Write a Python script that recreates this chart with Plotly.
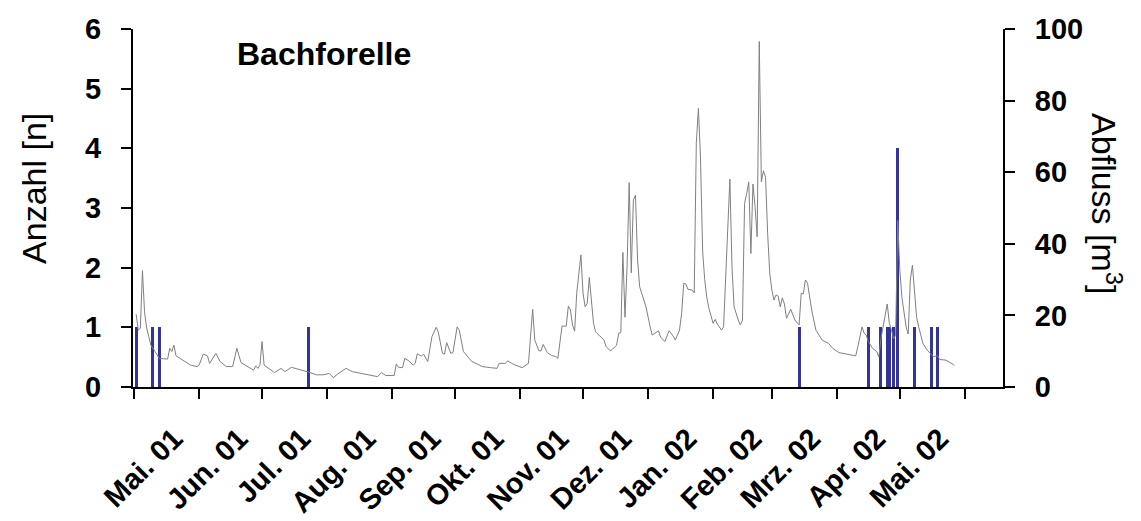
import pandas as pd
import plotly.graph_objects as go

# Messbeginn: Tag 0 der Abflussreihe
START = pd.Timestamp("2001-05-01")

# Tagesabfluss [m3] – Tag seit Messbeginn und Wert
abfluss_tag = [
    1, 2, 3, 4, 5, 6, 7, 8, 10, 12, 16, 17, 18, 19, 20, 23, 27, 30, 31, 33,
    35, 36, 39, 41, 44, 47, 49, 51, 54, 57, 58, 59, 60, 61, 62, 65, 67, 70, 72, 75,
    77, 80, 83, 87, 90, 93, 95, 97, 101, 104, 108, 111, 116, 118, 120, 124, 125, 126, 128, 129,
    131, 133, 134, 135, 137, 138, 140, 142, 144, 145, 147, 148, 149, 151, 152, 154, 155, 157, 159, 161,
    163, 166, 170, 173, 174, 177, 178, 181, 185, 188, 190, 191, 193, 194, 195, 197, 199, 201, 202, 204,
    206, 207, 208, 209, 210, 211, 213, 214, 215, 216, 217, 218, 219, 220, 222, 224, 225, 227, 228, 230,
    231, 232, 233, 234, 235, 236, 237, 238, 239, 240, 241, 243, 244, 246, 247, 250, 251, 253, 255, 257,
    258, 260, 261, 262, 263, 264, 266, 267, 268, 269, 270, 271, 272, 273, 274, 276, 277, 278, 280, 281,
    282, 283, 284, 285, 286, 288, 289, 290, 291, 292, 293, 294, 295, 296, 297, 298, 299, 300, 301, 302,
    303, 304, 305, 306, 307, 308, 309, 310, 311, 313, 315, 317, 318, 319, 320, 321, 323, 325, 328, 331,
    333, 336, 340, 344, 345, 347, 348, 349, 350, 352, 354, 355, 356, 357, 359, 360, 361, 362, 363, 364,
    365, 366, 367, 368, 369, 370, 371, 372, 373, 374, 376, 378, 381, 383, 384, 387, 389, 391,
]
abfluss = [
    20.3, 15.9, 16.4, 32.5, 21.0, 16.5, 14.1, 11.7, 9.9, 8.0, 7.8, 10.8, 9.9, 11.7, 8.7, 7.5, 6.1, 5.7, 6.1, 9.2,
    8.7, 6.6, 9.4, 7.1, 5.7, 5.7, 10.8, 6.8, 5.7, 4.7, 5.9, 5.2, 6.1, 12.7, 6.1, 4.7, 4.0, 5.2, 4.3, 5.5,
    5.2, 4.7, 4.2, 3.4, 3.4, 3.8, 2.6, 3.6, 5.2, 4.3, 3.8, 3.4, 2.9, 4.0, 3.2, 3.2, 6.4, 5.5, 5.4, 8.0,
    7.3, 6.1, 6.6, 9.3, 8.6, 9.2, 7.1, 14.1, 16.7, 15.4, 9.4, 9.2, 12.4, 9.4, 9.6, 16.8, 15.9, 9.9, 8.5, 7.1,
    6.6, 5.7, 5.4, 5.2, 6.6, 6.6, 7.3, 6.3, 5.4, 6.6, 21.7, 13.1, 10.1, 10.1, 11.9, 9.6, 8.8, 8.5, 8.0, 17.0,
    17.0, 22.6, 21.5, 17.3, 15.6, 26.2, 36.9, 26.2, 22.4, 23.4, 30.6, 24.8, 17.8, 15.4, 14.1, 13.1, 11.3, 10.1, 10.5, 11.7,
    15.0, 15.2, 37.6, 19.5, 33.6, 57.1, 31.9, 52.2, 53.6, 35.5, 28.0, 24.1, 22.4, 16.8, 14.5, 15.7, 13.9, 12.7, 15.7, 14.2,
    13.1, 15.9, 20.6, 29.0, 28.8, 27.3, 27.1, 26.3, 68.1, 77.8, 64.0, 38.0, 30.0, 25.0, 22.0, 17.8, 18.9, 17.6, 15.9, 16.8,
    29.9, 42.9, 58.1, 33.6, 22.4, 18.7, 17.3, 18.7, 51.3, 54.0, 57.3, 37.3, 56.7, 50.4, 42.0, 96.5, 57.3, 60.4, 58.6, 42.9,
    31.8, 27.1, 24.3, 25.7, 25.4, 22.4, 24.9, 23.2, 19.2, 21.7, 18.7, 17.3, 26.2, 26.0, 29.9, 29.0, 21.5, 15.9, 13.1, 12.2,
    10.8, 9.6, 9.1, 8.7, 11.3, 16.8, 15.0, 14.5, 12.7, 10.8, 9.9, 8.4, 13.5, 16.8, 23.2, 17.8, 16.0, 13.5, 14.4, 46.5,
    32.7, 25.0, 21.0, 16.8, 14.8, 29.9, 34.0, 25.2, 19.5, 16.8, 12.2, 10.3, 8.5, 8.7, 7.7, 7.5, 6.9, 6.1,
]

# Fänge Bachforelle: Datum und Anzahl
fang_datum = [
    "2001-05-02", "2001-05-10", "2001-05-13", "2001-07-23", "2002-03-14",
    "2002-04-16", "2002-04-22", "2002-04-25", "2002-04-26", "2002-04-28",
    "2002-04-30", "2002-05-08", "2002-05-16", "2002-05-19",
]
fang_anzahl = [1, 1, 1, 1, 1, 1, 1, 1, 1, 1, 4, 1, 1, 1]

# Monatsachse
monat_start = pd.date_range("2001-05-01", "2002-06-01", freq="MS")
monat_label = [
    "Mai. 01", "Jun. 01", "Jul. 01", "Aug. 01", "Sep. 01", "Okt. 01", "Nov. 01",
    "Dez. 01", "Jan. 02", "Feb. 02", "Mrz. 02", "Apr. 02", "Mai. 02", "",
]

abfluss_datum = START + pd.to_timedelta(abfluss_tag, unit="D")
DAY_MS = 86_400_000

FONT = "Arial, 'Liberation Sans', Helvetica, sans-serif"

fig = go.Figure()
fig.add_trace(go.Bar(
    x=pd.to_datetime(fang_datum), y=fang_anzahl,
    width=1.45 * DAY_MS,
    marker=dict(color="#333399", line=dict(width=0)),
    yaxis="y", name="Anzahl",
))
fig.add_trace(go.Scatter(
    x=abfluss_datum, y=abfluss, mode="lines",
    line=dict(color="#808080", width=1),
    yaxis="y2", name="Abfluss",
))

axis_common = dict(
    showline=True, linecolor="black", linewidth=2,
    ticks="outside", ticklen=10, tickwidth=2, tickcolor="black",
    showgrid=False, zeroline=False, automargin=False,
    tickfont=dict(family=FONT, size=29, color="black", weight="bold"),
)

fig.update_layout(
    width=1141, height=521,
    margin=dict(l=133, r=138, t=29, b=134),
    paper_bgcolor="white", plot_bgcolor="white",
    showlegend=False,
    bargap=0,
    font=dict(family=FONT, color="black"),
    xaxis=dict(
        type="date",
        range=["2001-04-30 12:00", "2002-06-19 04:19"],
        tickvals=monat_start, ticktext=monat_label,
        tickangle=-45,
        ticklabelshift=40,
        ticklabelstandoff=11,
        **axis_common,
    ),
    yaxis=dict(
        range=[0, 6], tickvals=[0, 1, 2, 3, 4, 5, 6],
        ticklabelstandoff=14,
        **axis_common,
    ),
    yaxis2=dict(
        range=[0, 100], tickvals=[0, 20, 40, 60, 80, 100],
        overlaying="y", side="right",
        ticklabelstandoff=14,
        **axis_common,
    ),
    annotations=[
        dict(text="Bachforelle", xref="paper", yref="paper",
             x=0.2195, y=0.930, xanchor="center", yanchor="middle",
             showarrow=False,
             font=dict(family=FONT, size=32, color="black", weight="bold")),
        dict(text="Anzahl [n]", xref="paper", yref="paper",
             x=-0.1138, y=0.556, xanchor="center", yanchor="middle",
             textangle=-90, showarrow=False,
             font=dict(family=FONT, size=34, color="black")),
        dict(text="Abfluss [m<sup>3</sup>]", xref="paper", yref="paper",
             x=1.1195, y=0.511, xanchor="center", yanchor="middle",
             textangle=90, showarrow=False,
             font=dict(family=FONT, size=34, color="black")),
    ],
)

fig.write_html("out.html", config={"displayModeBar": False})
